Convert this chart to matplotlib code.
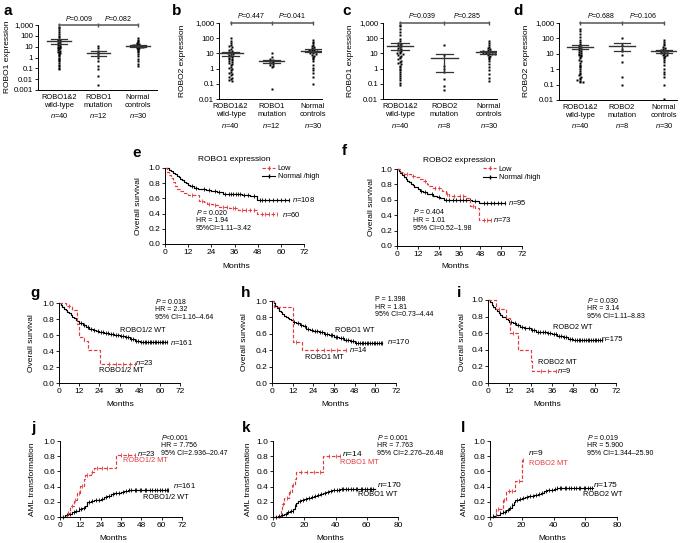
import numpy as np
import matplotlib
matplotlib.use('Agg')
import matplotlib.pyplot as plt
from matplotlib.lines import Line2D
from matplotlib.ticker import NullLocator, FormatStrFormatter

plt.rcParams['font.family'] = ['Liberation Sans', 'DejaVu Sans']
plt.rcParams['mathtext.fontset'] = 'custom'
plt.rcParams['mathtext.rm'] = 'Liberation Sans'
plt.rcParams['mathtext.it'] = 'Liberation Sans:italic'
plt.rcParams['axes.linewidth'] = 0.7

W, H = 685, 543
RED = '#e23b41'
DASH = (0, (3, 1.6))

# ---------------- a-d : expression values ----------------
a_wt = [700, 500, 380, 250, 150, 100, 75, 55, 45, 40, 34, 30, 26, 22, 19, 16, 14, 12, 10, 9,
        8, 7, 6, 5, 4.2, 3.5, 3, 2.5, 2, 1.6, 1.3, 1.0, 0.8, 0.6, 0.45, 0.32, 0.22, 0.15, 0.11, 0.08]
a_mut = [11, 8, 4, 3, 2, 1.5, 1, 0.5, 0.15, 0.08, 0.02, 0.003]
a_norm = [60, 45, 35, 28, 22, 19, 17, 15, 14, 13, 12.5, 12, 11.5, 11, 10.5, 10, 9.5, 9, 8, 7,
          6, 5, 4, 3, 2, 1.4, 0.8, 0.45, 0.25, 0.15]
a_mean, a_lo, a_hi = [35, 2.5, 12], [18, 1.5, 10], [52, 4, 14]
a_p = ['0.009', '0.082']

b_wt = [100, 70, 50, 38, 30, 25, 20, 17, 15, 13, 12, 11, 10, 9, 8, 7, 6.3, 5.6, 5, 4.5,
        4, 3.5, 3, 2.6, 2.2, 1.9, 1.6, 1.3, 1.1, 0.9, 0.75, 0.62, 0.52, 0.43, 0.36, 0.3, 0.25, 0.2, 0.17, 0.15]
b_mut = [11, 6, 4, 3.5, 3, 2.7, 2.4, 2.1, 1.8, 1.5, 1.2, 0.045]
b_norm = [80, 60, 45, 36, 30, 26, 22, 20, 18, 17, 16, 15, 14, 13, 12, 11, 10, 9, 8, 7,
          6, 5, 4, 3, 1.6, 1.1, 0.75, 0.5, 0.3, 0.1]
b_mean, b_lo, b_hi = [10, 3, 15], [7, 2.2, 12], [13, 3.8, 19]
b_p = ['0.447', '0.041']

c_wt = [780, 600, 420, 260, 160, 95, 65, 50, 42, 36, 31, 27, 23, 20, 17, 15, 13, 11, 10, 9,
        8, 7, 6, 5, 4, 3.4, 2.8, 2.3, 1.9, 1.5, 1.2, 1.0, 0.8, 0.6, 0.45, 0.34, 0.25, 0.17, 0.12, 0.08]
c_mut = [35, 8, 1.5, 1, 0.6, 0.2, 0.07, 0.04]
c_norm = [65, 48, 36, 28, 23, 19, 17, 15, 14, 13, 12.5, 12, 11.5, 11, 10.5, 10, 9.5, 9, 8, 7,
          6, 5, 4, 3, 2, 1.3, 0.8, 0.45, 0.25, 0.15]
c_mean, c_lo, c_hi = [33, 5, 12], [17, 0.6, 9], [50, 9, 15]
c_p = ['0.039', '0.285']

d_wt = [400, 300, 200, 120, 80, 55, 42, 35, 30, 26, 23, 20, 18, 16, 14, 12, 10, 9, 8, 7,
        6, 5, 4, 3.2, 2.6, 2, 1.6, 1.3, 1, 0.8, 0.6, 0.5, 0.4, 0.32, 0.26, 0.22, 0.19, 0.17, 0.15, 0.14]
d_mut = [110, 40, 20, 15, 8, 3, 0.3, 0.09]
d_norm = [80, 60, 45, 35, 28, 24, 21, 19, 17, 16, 15, 14, 13, 12, 11, 10, 9, 8, 7, 6,
          5, 4, 3, 2, 1, 0.7, 0.5, 0.3, 0.1, 0.012]
d_mean, d_lo, d_hi = [28, 32, 15], [20, 15, 12], [40, 50, 18]
d_p = ['0.688', '0.106']

cats_r1 = ['ROBO1&2\nwild-type', 'ROBO1\nmutation', 'Normal\ncontrols']
cats_r2 = ['ROBO1&2\nwild-type', 'ROBO2\nmutation', 'Normal\ncontrols']
n_r1 = [40, 12, 30]
n_r2 = [40, 8, 30]

# ---------------- e-l : survival / cumulative curves ----------------
e_hi_t = [0, 2, 3, 4, 5, 6, 7, 8, 9, 10, 11, 12, 13, 15, 17, 19, 21, 24, 27, 30, 40, 44, 47.5]
e_hi_s = [1.0, 0.98, 0.96, 0.94, 0.92, 0.90, 0.88, 0.86, 0.84, 0.82, 0.80, 0.78, 0.76, 0.74,
          0.73, 0.72, 0.71, 0.70, 0.68, 0.66, 0.65, 0.63, 0.575]
e_hi_cens = [14, 16, 20, 23, 26, 28, 31, 33, 34, 35, 37, 38, 39, 41, 43, 46, 49, 50, 52, 54,
             56, 58, 60, 62, 64]
e_lo_t = [0, 1, 2, 3, 4, 5, 6, 8, 10, 12, 17.5, 20, 22, 25, 28, 33, 38, 47.5]
e_lo_s = [1.0, 0.95, 0.91, 0.87, 0.82, 0.76, 0.72, 0.70, 0.67, 0.65, 0.57, 0.55, 0.53, 0.51,
          0.49, 0.47, 0.45, 0.39]
e_lo_cens = [14, 19, 23, 26, 30, 32, 35, 36, 40, 42, 44, 46, 50, 52, 54, 56, 58]

f_hi_t = [0, 1, 2, 3, 4, 5, 6, 7, 8, 9, 10, 12, 13, 15, 17, 19, 21, 23, 25, 27, 43, 47]
f_hi_s = [1.0, 0.98, 0.95, 0.92, 0.89, 0.87, 0.85, 0.83, 0.81, 0.79, 0.77, 0.74, 0.72, 0.70,
          0.68, 0.67, 0.65, 0.63, 0.62, 0.60, 0.58, 0.56]
f_hi_cens = [14, 16, 20, 24, 28, 30, 32, 34, 36, 38, 40, 42, 45, 50, 52, 54, 56, 58, 60, 62]
f_lo_t = [0, 2, 4, 8, 11, 13, 15, 17, 18, 20, 26, 28, 30, 40, 42, 45, 47.5]
f_lo_s = [1.0, 0.96, 0.93, 0.91, 0.89, 0.87, 0.84, 0.81, 0.78, 0.75, 0.72, 0.68, 0.65, 0.62,
          0.52, 0.50, 0.34]
f_lo_cens = [6, 9, 16, 22, 24, 29, 33, 36, 38, 44, 50, 52, 54]

os_t = [0, 1, 2, 3, 4, 5, 6, 7, 8, 9, 10, 11, 12, 14, 16, 18, 20, 22, 24, 27, 30, 33, 36, 39, 42, 45, 48]
g_wt_s = [1.0, 0.98, 0.95, 0.93, 0.91, 0.89, 0.87, 0.85, 0.83, 0.81, 0.79, 0.77, 0.75, 0.72,
          0.70, 0.68, 0.66, 0.65, 0.64, 0.62, 0.61, 0.60, 0.59, 0.57, 0.55, 0.53, 0.51]
wt_cens = [13, 15, 17, 19, 21, 23, 25, 26, 28, 29, 31, 32, 34, 35, 37, 38, 40, 41, 43, 44,
           46, 47, 49, 50, 51, 52, 53, 54, 55, 56, 57, 58, 59, 60, 61, 62, 63, 64]
g_mt_t = [0, 4, 8, 11, 12, 15, 17, 24.5]
g_mt_s = [1.0, 0.96, 0.91, 0.74, 0.57, 0.52, 0.41, 0.24]
g_mt_cens = [6, 30, 34, 38, 42, 45]

h_wt_s = [1.0, 0.97, 0.94, 0.91, 0.88, 0.86, 0.84, 0.82, 0.80, 0.79, 0.78, 0.77, 0.75, 0.73,
          0.71, 0.69, 0.66, 0.65, 0.64, 0.62, 0.60, 0.58, 0.56, 0.55, 0.53, 0.51, 0.49]
h_mt_t = [0, 1, 12, 17.5]
h_mt_s = [1.0, 0.93, 0.50, 0.40]
h_mt_cens = [14, 26, 30, 34, 38, 43]

i_wt_t = [0, 1, 2, 3, 4, 5, 6, 7, 8, 9, 10, 11, 12, 14, 16, 18, 20, 24, 27, 30, 33, 36, 39, 42, 45, 48]
i_wt_s = [1.0, 0.97, 0.94, 0.91, 0.89, 0.87, 0.84, 0.82, 0.80, 0.79, 0.77, 0.76, 0.74, 0.72,
          0.70, 0.68, 0.66, 0.64, 0.62, 0.61, 0.60, 0.59, 0.57, 0.55, 0.53, 0.52]
i_mt_t = [0, 4.5, 10, 12.5, 17, 24, 25]
i_mt_s = [1.0, 0.89, 0.78, 0.60, 0.40, 0.27, 0.14]
i_mt_cens = [6, 14, 30, 34, 38]

j_wt_t = [0, 3, 5, 7, 9, 11, 13, 15, 16, 18, 20, 22, 24, 26, 28, 30, 32, 34, 36, 38, 40]
j_wt_s = [0, 0.02, 0.04, 0.06, 0.08, 0.10, 0.12, 0.14, 0.20, 0.21, 0.22, 0.23, 0.24, 0.26,
          0.28, 0.30, 0.31, 0.32, 0.33, 0.34, 0.35]
j_mt_t = [0, 4, 6, 8, 10, 12, 14, 15, 18, 20, 33]
j_mt_s = [0, 0.05, 0.14, 0.23, 0.32, 0.41, 0.50, 0.55, 0.59, 0.64, 0.82]
j_mt_cens = [5, 7, 9, 11, 13, 16, 19, 22, 25, 28, 36, 40, 44]

k_wt_t = [0, 3, 5, 7, 9, 11, 13, 14, 15, 16, 18, 20, 22, 24, 26, 28, 30, 32, 34, 36, 38, 40, 43]
k_wt_s = [0, 0.01, 0.02, 0.04, 0.06, 0.08, 0.11, 0.14, 0.18, 0.21, 0.23, 0.24, 0.25, 0.26,
          0.27, 0.29, 0.30, 0.32, 0.33, 0.34, 0.35, 0.36, 0.37]
k_mt_t = [0, 5, 6, 7, 10, 12, 14, 15, 32]
k_mt_s = [0, 0.08, 0.17, 0.25, 0.33, 0.42, 0.50, 0.59, 0.80]
k_mt_cens = [6.5, 9, 11, 13, 18, 22, 26, 30, 36, 40, 43]

l_wt_t = [0, 2, 4, 6, 8, 10, 12, 14, 15, 16, 18, 20, 22, 24, 26, 28, 30, 32, 34, 36, 38, 40, 42]
l_wt_s = [0, 0.01, 0.03, 0.05, 0.07, 0.09, 0.12, 0.16, 0.20, 0.22, 0.24, 0.25, 0.26, 0.27,
          0.28, 0.29, 0.30, 0.32, 0.34, 0.35, 0.36, 0.37, 0.38]
l_mt_t = [0, 4, 8, 10, 16, 20]
l_mt_s = [0, 0.11, 0.22, 0.34, 0.47, 0.75]
l_mt_cens = [5, 9, 12, 14, 18, 21]

cum_cens = [2, 4, 6, 8, 9.5, 11.5, 12.5, 14, 17, 19, 21, 23, 25, 27, 29, 31, 33, 35, 37, 39,
            41, 42, 44, 45, 47, 48, 50, 51, 53, 54, 56, 57, 59, 60, 62, 63, 64]

fig = plt.figure(figsize=(W / 100, H / 100), dpi=100)


def rect(x0, y0, x1, y1):
    return [x0 / W, 1 - y1 / H, (x1 - x0) / W, (y1 - y0) / H]


def ftext(x, y, s, **kw):
    fig.text(x / W, 1 - y / H, s, **kw)


def swarm(v, step=0.11, dx=0.065):
    lv = np.log10(v)
    bins = np.round(lv / step)
    off = np.zeros(len(v))
    for b in np.unique(bins):
        idx = np.where(bins == b)[0]
        off[idx] = (np.arange(len(idx)) - (len(idx) - 1) / 2) * dx
    return off


def dot_panel(r, xlim, ylim, yticks, ytl, cats, ns, vals, mean, lo, hi, pv):
    ax = fig.add_axes(r)
    ax.set_yscale('log')
    for i, v in enumerate(vals):
        x0 = i + 1
        ax.plot(swarm(v) + x0, v, 's', ms=1.8, color='black', mec='none', clip_on=False, zorder=2)
        ax.plot([x0 - 0.3, x0 + 0.3], [mean[i]] * 2, color='#333333', lw=1.0, zorder=3)
        ax.plot([x0 - 0.2, x0 + 0.2], [lo[i]] * 2, color='#333333', lw=0.9, zorder=3)
        ax.plot([x0 - 0.2, x0 + 0.2], [hi[i]] * 2, color='#333333', lw=0.9, zorder=3)
        ax.plot([x0, x0], [lo[i], hi[i]], color='#333333', lw=0.9, zorder=3)
        ax.annotate('$\\mathit{n}$=%d' % ns[i], xy=(x0, 0), xycoords=('data', 'axes fraction'),
                    xytext=(0, -26), textcoords='offset pixels', ha='center', va='center',
                    fontsize=5.4, annotation_clip=False)
    top = ylim[1]
    ax.plot([1, 3], [top, top], color='#555555', lw=1.1, clip_on=False)
    ax.plot([1, 2, 3], [top] * 3, '|', color='#555555', ms=3, mew=1, clip_on=False)
    for k, p in enumerate(pv):
        ax.text(1.5 + k, top * 1.5, '$\\mathit{P}$=' + p, ha='center', va='bottom', fontsize=5)
    ax.set_xlim(*xlim)
    ax.set_ylim(*ylim)
    ax.set_yticks(yticks)
    ax.set_yticklabels(ytl)
    ax.yaxis.set_minor_locator(NullLocator())
    ax.set_xticks([1, 2, 3])
    ax.set_xticklabels(cats)
    ax.tick_params(axis='x', length=0, labelsize=5.4, pad=3)
    ax.tick_params(axis='y', length=2, width=0.6, labelsize=5.6, pad=1.5)
    for s in ['top', 'right']:
        ax.spines[s].set_visible(False)
    return ax


def km(ax, t, s, end, cens, color, ls):
    tt = list(t) + [end]
    ss = list(s) + [s[-1]]
    ax.step(tt, ss, where='post', color=color, ls=ls, lw=0.85, clip_on=False)
    idx = np.searchsorted(t, cens, side='right') - 1
    ax.plot(cens, np.array(s)[idx], '|', color=color, ms=2.4, mew=0.6, clip_on=False)


def km_axes(r, xmax, xstep):
    ax = fig.add_axes(r)
    ax.set_xlim(0, xmax)
    ax.set_ylim(0, 1)
    ax.set_xticks(np.arange(0, xmax + 1, xstep))
    ax.set_yticks(np.arange(0, 1.01, 0.2))
    ax.yaxis.set_major_formatter(FormatStrFormatter('%.1f'))
    ax.tick_params(labelsize=6, length=2, width=0.6, pad=1.5)
    for s in ['top', 'right']:
        ax.spines[s].set_visible(False)
    return ax


# ---- panels a-d ----
dec3 = [0.001, 0.01, 0.1, 1, 10, 100, 1000]
dec3l = ['0.001', '0.01', '0.1', '1', '10', '100', '1,000']
dot_panel(rect(38, 25, 157, 90), (0.47, 3.48), (0.001, 1000), dec3, dec3l, cats_r1, n_r1,
          [a_wt, a_mut, a_norm], a_mean, a_lo, a_hi, a_p)
dot_panel(rect(219, 23, 322, 99), (0.72, 3.22), (0.01, 1000), dec3[1:], dec3l[1:], cats_r1, n_r1,
          [b_wt, b_mut, b_norm], b_mean, b_lo, b_hi, b_p)
dot_panel(rect(383, 23, 497, 99), (0.62, 3.18), (0.01, 1000), dec3[1:], dec3l[1:], cats_r2, n_r2,
          [c_wt, c_mut, c_norm], c_mean, c_lo, c_hi, c_p)
dot_panel(rect(559, 23, 677, 100), (0.5, 3.31), (0.01, 1000), dec3[1:], dec3l[1:], cats_r2, n_r2,
          [d_wt, d_mut, d_norm], d_mean, d_lo, d_hi, d_p)
ftext(8, 57, 'ROBO1 expression', rotation=90, ha='center', va='center', fontsize=6)
ftext(183, 61, 'ROBO2 expression', rotation=90, ha='center', va='center', fontsize=6)
ftext(350, 61, 'ROBO1 expression', rotation=90, ha='center', va='center', fontsize=6)
ftext(527, 61, 'ROBO2 expression', rotation=90, ha='center', va='center', fontsize=6)

# ---- e ----
ax = km_axes(rect(165, 168, 304, 244), 72, 12)
km(ax, e_hi_t, e_hi_s, 64, e_hi_cens, 'black', '-')
km(ax, e_lo_t, e_lo_s, 58, e_lo_cens, RED, DASH)
ax.text(0.5, 1.06, 'ROBO1 expression', transform=ax.transAxes, ha='center', va='bottom', fontsize=6)
ax.text(66, 0.58, '$\\mathit{n}$=108', fontsize=5.5, va='center')
ax.text(60.5, 0.39, '$\\mathit{n}$=60', fontsize=5.5, va='center')
ax.text(16, 0.48, '$\\mathit{P}$ = 0.020\nHR = 1.94\n95%CI=1.11–3.42', fontsize=5,
        va='top', linespacing=1.15)
hand = [Line2D([], [], color=RED, ls=DASH, lw=0.8, marker='|', ms=2.2),
        Line2D([], [], color='black', lw=0.8, marker='|', ms=2.2)]
ax.legend(hand, ['Low', 'Normal /high'], loc='upper left', bbox_to_anchor=(0.7, 1.04),
          frameon=False, fontsize=5.3, handlelength=1.7, handletextpad=0.4,
          labelspacing=0.15, borderpad=0, borderaxespad=0)
ftext(138, 206, 'Overall survival', rotation=90, ha='center', va='center', fontsize=6)
ftext(236, 267, 'Months', ha='center', va='center', fontsize=6)

# ---- f ----
ax = km_axes(rect(397, 169, 522, 246), 72, 12)
km(ax, f_hi_t, f_hi_s, 62, f_hi_cens, 'black', '-')
km(ax, f_lo_t, f_lo_s, 54, f_lo_cens, RED, DASH)
ax.text(0.5, 1.06, 'ROBO2 expression', transform=ax.transAxes, ha='center', va='bottom', fontsize=6)
ax.text(64, 0.57, '$\\mathit{n}$=95', fontsize=5.5, va='center')
ax.text(55.5, 0.34, '$\\mathit{n}$=73', fontsize=5.5, va='center')
ax.text(9, 0.5, '$\\mathit{P}$ = 0.404\nHR = 1.01\n95% CI=0.52–1.98', fontsize=5,
        va='top', linespacing=1.15)
ax.legend(hand, ['Low', 'Normal /high'], loc='upper left', bbox_to_anchor=(0.69, 1.04),
          frameon=False, fontsize=5.3, handlelength=1.7, handletextpad=0.4,
          labelspacing=0.15, borderpad=0, borderaxespad=0)
ftext(371, 207, 'Overall survival', rotation=90, ha='center', va='center', fontsize=6)
ftext(455, 267, 'Months', ha='center', va='center', fontsize=6)

# ---- g ----
ax = km_axes(rect(59, 303, 180, 383), 72, 12)
km(ax, os_t, g_wt_s, 64, wt_cens, 'black', '-')
km(ax, g_mt_t, g_mt_s, 45, g_mt_cens, RED, DASH)
ax.text(57, 1.08, '$\\mathit{P}$ = 0.018\nHR = 2.32\n95% CI=1.16–4.64', fontsize=5,
        va='top', linespacing=1.1)
ax.text(36.3, 0.66, 'ROBO1/2 WT', fontsize=5.3, va='center')
ax.text(66, 0.51, '$\\mathit{n}$=161', fontsize=5.5, va='center')
ax.text(45.2, 0.26, '$\\mathit{n}$=23', fontsize=5.5, va='center')
ax.text(23.8, 0.15, 'ROBO1/2 MT', fontsize=5.3, va='center')
ftext(32, 343, 'Overall survival', rotation=90, ha='center', va='center', fontsize=6)
ftext(120, 405, 'Months', ha='center', va='center', fontsize=6)

# ---- h ----
ax = km_axes(rect(272, 301, 396, 383), 72, 12)
km(ax, os_t, h_wt_s, 64, wt_cens, 'black', '-')
km(ax, h_mt_t, h_mt_s, 43, h_mt_cens, RED, DASH)
ax.text(59.8, 1.06, 'P = 1.398\nHR = 1.81\n95% CI=0.73–4.44', fontsize=5,
        va='top', linespacing=1.1)
ax.text(36.6, 0.64, 'ROBO1 WT', fontsize=5.3, va='center')
ax.text(66.8, 0.5, '$\\mathit{n}$=170', fontsize=5.5, va='center')
ax.text(44.5, 0.41, '$\\mathit{n}$=14', fontsize=5.5, va='center')
ax.text(19.2, 0.31, 'ROBO1 MT', fontsize=5.3, va='center')
ftext(245, 342, 'Overall survival', rotation=90, ha='center', va='center', fontsize=6)
ftext(335, 405, 'Months', ha='center', va='center', fontsize=6)

# ---- i ----
ax = km_axes(rect(488, 300, 616, 383), 72, 12)
km(ax, i_wt_t, i_wt_s, 64, wt_cens, 'black', '-')
km(ax, i_mt_t, i_mt_s, 38, i_mt_cens, RED, DASH)
ax.text(55.7, 1.05, '$\\mathit{P}$ = 0.030\nHR = 3.14\n95% CI=1.11–8.83', fontsize=5,
        va='top', linespacing=1.1)
ax.text(36.6, 0.67, 'ROBO2 WT', fontsize=5.3, va='center')
ax.text(64.1, 0.53, 'n=175', fontsize=5.5, va='center')
ax.text(28.1, 0.25, 'ROBO2 MT', fontsize=5.3, va='center')
ax.text(38.8, 0.145, '$\\mathit{n}$=9', fontsize=5.5, va='center')
ftext(463, 342, 'Overall survival', rotation=90, ha='center', va='center', fontsize=6)
ftext(547, 405, 'Months', ha='center', va='center', fontsize=6)

# ---- j ----
ax = km_axes(rect(60, 441, 182, 517), 72, 12)
km(ax, j_wt_t, j_wt_s, 64, cum_cens, 'black', '-')
km(ax, j_mt_t, j_mt_s, 44, j_mt_cens, RED, DASH)
ax.text(59.6, 1.11, '$\\mathit{P}$<0.001\nHR = 7.756\n95% CI=2.936–20.47', fontsize=5,
        va='top', linespacing=1.1)
ax.text(45.4, 0.84, '$\\mathit{n}$=23', fontsize=5.5, va='center')
ax.text(37.2, 0.75, 'ROBO1/2 MT', fontsize=5.3, va='center', color=RED)
ax.text(66.7, 0.41, '$\\mathit{n}$=161', fontsize=5.5, va='center')
ax.text(49, 0.26, 'ROBO1/2 WT', fontsize=5.3, va='center')
ftext(33, 479, 'AML transformation', rotation=90, ha='center', va='center', fontsize=6)
ftext(113, 538, 'Months', ha='center', va='center', fontsize=6)

# ---- k ----
ax = km_axes(rect(273, 441, 398, 517), 80, 20)
km(ax, k_wt_t, k_wt_s, 65, cum_cens, 'black', '-')
km(ax, k_mt_t, k_mt_s, 43, k_mt_cens, RED, DASH)
ax.text(66.6, 1.11, '$\\mathit{P}$ = 0.001\nHR = 7.763\n95% CI=2.276–26.48', fontsize=5,
        va='top', linespacing=1.1)
ax.text(44.2, 0.84, '$\\mathit{n}$=14', fontsize=6, va='center')
ax.text(42.9, 0.72, 'ROBO1 MT', fontsize=5.3, va='center', color=RED)
ax.text(66.6, 0.43, '$\\mathit{n}$=170', fontsize=6, va='center')
ax.text(54.4, 0.29, 'ROBO1 WT', fontsize=5.3, va='center')
ftext(249, 479, 'AML transformation', rotation=90, ha='center', va='center', fontsize=6)
ftext(330, 538, 'Months', ha='center', va='center', fontsize=6)

# ---- l ----
ax = km_axes(rect(490, 441, 617, 517), 80, 20)
km(ax, l_wt_t, l_wt_s, 65, cum_cens, 'black', '-')
km(ax, l_mt_t, l_mt_s, 21, l_mt_cens, RED, DASH)
ax.text(61.1, 1.11, '$\\mathit{P}$ = 0.019\nHR = 5.900\n95% CI=1.344–25.90', fontsize=5,
        va='top', linespacing=1.1)
ax.text(23.9, 0.855, '$\\mathit{n}$=9', fontsize=6, va='center')
ax.text(24.6, 0.71, 'ROBO2 MT', fontsize=5.3, va='center', color=RED)
ax.text(64.9, 0.43, '$\\mathit{n}$=175', fontsize=6, va='center')
ax.text(58.6, 0.30, 'ROBO2 WT', fontsize=5.3, va='center')
ftext(465, 479, 'AML transformation', rotation=90, ha='center', va='center', fontsize=6)
ftext(552, 538, 'Months', ha='center', va='center', fontsize=6)

# ---- panel letters ----
for lab, x, y in [('a', 4, 15), ('b', 172, 15), ('c', 342, 15), ('d', 513, 15),
                  ('e', 132, 157), ('f', 342, 155), ('g', 30, 297), ('h', 241, 297),
                  ('i', 457, 297), ('j', 31, 432), ('k', 242, 432), ('l', 461, 432)]:
    ftext(x, y, lab, fontsize=11, fontweight='bold', va='baseline')

fig.savefig('out.png', dpi=100)
